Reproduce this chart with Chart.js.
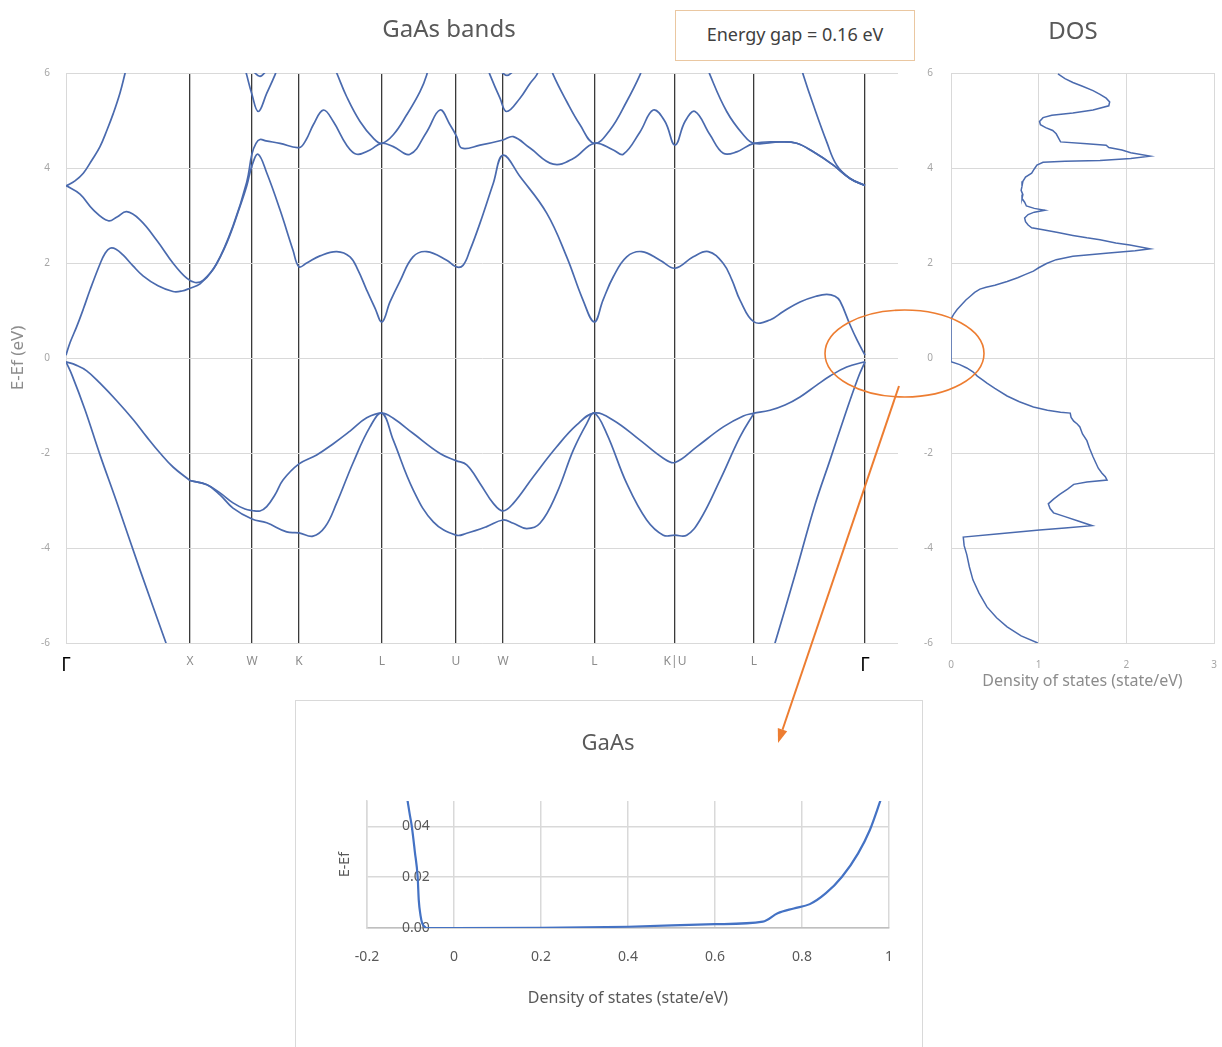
<!DOCTYPE html>
<html><head><meta charset="utf-8">
<script src="https://cdn.jsdelivr.net/npm/chart.js@4.4.1/dist/chart.umd.min.js"></script>
<style>
html,body{margin:0;padding:0;width:1222px;height:1047px;overflow:hidden;background:#fff;font-family:'Noto Sans','Open Sans',sans-serif;}
canvas{position:absolute;}
#c1{left:0;top:0;}
#c2{left:911px;top:0;}
#dosTitle{position:absolute;left:1013px;width:120px;top:13px;text-align:center;font-size:24px;line-height:34px;color:#595959;}
#insetBox{position:absolute;left:295px;top:700px;width:628px;height:360px;border:1px solid #d9d9d9;box-sizing:border-box;}
#c3{left:295px;top:700px;}
#gap{position:absolute;left:675px;top:10px;width:240px;height:51px;border:1.5px solid #eac7a1;box-sizing:border-box;display:flex;align-items:center;justify-content:center;font-size:18px;color:#404040;background:#fff;padding-bottom:3px;}
svg{position:absolute;left:0;top:0;pointer-events:none;}
</style></head><body>
<canvas id="c1" width="898" height="700"></canvas>
<canvas id="c2" width="324" height="700"></canvas>
<div id="dosTitle">DOS</div>
<div id="insetBox"></div>
<canvas id="c3" width="628" height="347"></canvas>
<div id="gap">Energy gap = 0.16 eV</div>
<svg width="1222" height="1047">
<ellipse cx="904.5" cy="353.5" rx="79.5" ry="43.5" fill="none" stroke="#ed7d31" stroke-width="1.6"/>
<line x1="899" y1="386" x2="782.5" y2="729.7" stroke="#ed7d31" stroke-width="2"/>
<polygon points="778,743 787.2,731.3 777.8,728.1" fill="#ed7d31"/>
</svg>
<script>
// ---- band structure data (k along path, E-Ef in eV) ----
const kLabels = ['Γ','X','W','K','L','U','W','L','K|U','L','Γ'];
const kTicks = [0,124,186,233,316,390,437,528.3,609,688,799];
const kMax = 832;
const energyTicks = [-6,-4,-2,0,2,4,6];

const vb1Left = [[0,-0.08],[6,-0.36],[19,-1.09],[34,-2.04],[50,-2.99],[74,-4.46],[100,-6.0],[104,-6.25]];
const vb1Right = [[705,-6.25],[709,-6.0],[729,-4.57],[749,-3.09],[764,-2.15],[779,-1.2],[792,-0.42],[799,-0.08]];
const vbGX = [[0,-0.08],[10,-0.15],[20.7,-0.27],[34,-0.53],[50.7,-0.9],[67.3,-1.3],[80.7,-1.66],[94,-2.0],[107.3,-2.3],[124,-2.58]];
const vbLG = [[688,-1.16],[704,-1.1],[719,-0.99],[734,-0.82],[750.7,-0.57],[764,-0.38],[780.7,-0.19],[799,-0.08]];
const vbUpper = [[124,-2.58],[141,-2.67],[154,-2.84],[167,-3.05],[179,-3.18],[186,-3.21],[194,-3.22],[200.7,-3.13],[209,-2.88],[217,-2.57],[233,-2.23],[250.7,-2.04],[267,-1.81],[284,-1.54],[300.7,-1.26],[316,-1.16],
  [327.3,-1.27],[347.3,-1.59],[374,-2.01],[390,-2.16],[400.7,-2.25],[414,-2.64],[427.3,-3.06],[437,-3.22],[447.3,-3.06],[467.3,-2.5],[490.7,-1.87],[510.7,-1.41],[528.3,-1.16],
  [547.3,-1.31],[574,-1.73],[597.3,-2.11],[609,-2.2],[630.7,-1.87],[657.3,-1.45],[677.3,-1.22],[688,-1.16]];
const vbLower = [[124,-2.58],[141,-2.67],[154,-2.88],[167,-3.16],[186,-3.39],[200.7,-3.47],[220.7,-3.66],[233,-3.68],[247,-3.75],[259,-3.56],[270.7,-3.05],[287,-2.21],[304,-1.45],[316,-1.16],
  [327.3,-1.73],[347.3,-2.78],[367.3,-3.45],[390,-3.73],[400.7,-3.69],[420.7,-3.55],[437,-3.41],[447.3,-3.48],[460.7,-3.59],[474,-3.48],[490.7,-2.85],[507.3,-1.94],[520.7,-1.38],[528.3,-1.16],
  [540.7,-1.59],[560.7,-2.64],[580.7,-3.41],[597.3,-3.73],[609,-3.73],[620.7,-3.73],[634,-3.41],[654,-2.57],[674,-1.66],[688,-1.16]];
const cb1 = [[0,0.06],[4,0.32],[10.7,0.66],[17.3,1.03],[24,1.43],[34,1.98],[39,2.2],[44,2.31],[50,2.29],[57,2.17],[67,1.94],[77,1.73],[92,1.52],[107,1.40],[116,1.41],[124,1.47],[134,1.56],[147,1.86],[160.7,2.42],[174,3.19],[180.7,3.62],[186,4.05],[192,4.29],[200.7,3.9],[214,3.12],[227,2.27],[233,1.92],[240.7,2.0],[254,2.15],[270.7,2.24],[284,2.13],[292,1.85],[300.7,1.43],[309,1.05],[316,0.76],
  [324,1.18],[334,1.62],[347,2.13],[360.7,2.24],[380.7,2.06],[390,1.92],[397,1.95],[404,2.27],[414,2.84],[427.3,3.68],[437,4.27],[454,3.82],[480.7,3.05],[500.7,2.13],[517,1.22],[528.3,0.76],
  [537,1.22],[547.3,1.71],[560.7,2.13],[575.7,2.24],[594,2.06],[609,1.89],[627.3,2.13],[642.3,2.24],[657.3,1.99],[666,1.64],[674,1.22],[688,0.76],
  [704,0.8],[717.3,0.98],[734,1.18],[750,1.3],[760.7,1.34],[769,1.3],[774,1.2],[784,0.7],[791,0.38],[799,0.06]];
const cb2 = [[0,3.63],[14,3.45],[27.3,3.12],[42.3,2.89],[51,2.97],[60.7,3.08],[74,2.91],[90.7,2.48],[107.3,1.99],[120.7,1.68],[129,1.59],[137.3,1.64],[150.7,1.99],[167.3,2.80],[180.7,3.70],[186,4.30],[190,4.52],[194,4.6],[200,4.57],[214,4.52],[233,4.43],
  [240,4.59],[247.3,4.91],[257.3,5.22],[267.3,4.98],[280.7,4.48],[290.7,4.29],[304,4.38],[315.7,4.52],[327.3,4.45],[344,4.29],[360.7,4.76],[374,5.22],[384,4.91],[390.7,4.66],[395.7,4.42],
  [414,4.48],[437,4.59],[447.3,4.66],[464,4.42],[487.3,4.08],[507.3,4.2],[528.3,4.52],
  [547.3,4.38],[557.3,4.29],[574,4.76],[587.3,5.22],[599,4.98],[609,4.48],[619,4.98],[629,5.19],[644,4.7],[657.3,4.31],[670.7,4.34],[688,4.52],
  [714,4.55],[730.7,4.52],[747.3,4.34],[767.3,4.06],[784,3.78],[799,3.63]];
const cbGammaUp = [[0,3.62],[9,3.73],[17.3,3.89],[26,4.17],[34,4.45],[41,4.8],[47.3,5.15],[54,5.58],[59,5.99],[61,6.17]];
const cbWLeftV = [[179.5,6.06],[180.7,5.96],[185.7,5.57],[192.3,5.19],[200.7,5.57],[209,5.96],[210.5,6.06]];
const cbWLeftTop = [[186,6.06],[194,5.93],[201,6.06]];
const cbL1 = [[267.5,6.15],[270.7,6.0],[280.7,5.5],[294,4.98],[307.3,4.63],[315.7,4.52],[327.3,4.7],[340.7,5.12],[354,5.61],[360.7,5.96],[362,6.15]];
const cbWRightV = [[422,6.1],[424,5.96],[434,5.47],[440.7,5.19],[454,5.47],[464,5.78],[470.7,5.96],[473,6.1]];
const cbWRightTop = [[434,6.05],[441,5.95],[448,6.05]];
const cbL2 = [[485,6.15],[487.3,5.96],[500.7,5.4],[514,4.91],[528.3,4.52],[544,4.8],[560.7,5.4],[574,5.96],[576.5,6.15]];
const cbL3 = [[641.5,6.15],[644,5.96],[660.7,5.19],[677.3,4.7],[688,4.52],[714,4.55],[730.7,4.52],[747.3,4.34],[767.3,4.06],[784,3.78],[799,3.63]];
const cbLGammaSteep = [[735,6.15],[737.3,5.96],[747.3,5.33],[760.7,4.55],[770.7,4.06],[784,3.78],[799,3.63]];

// ---- DOS data: [DOS (state/eV), E-Ef (eV)] ----
const dosCurve = [[1.22,5.98],[1.30,5.88],[1.39,5.80],[1.50,5.72],[1.62,5.63],[1.70,5.55],[1.77,5.47],[1.81,5.39],[1.80,5.31],[1.62,5.22],[1.39,5.16],[1.15,5.11],[1.05,5.06],[1.01,4.98],[1.02,4.91],[1.08,4.85],[1.16,4.79],[1.20,4.72],[1.23,4.62],[1.25,4.55],[1.55,4.51],[1.77,4.48],[1.80,4.43],[1.95,4.38],[2.05,4.32],[2.27,4.25],[2.05,4.20],[1.70,4.16],[1.30,4.14],[1.05,4.12],[0.98,4.06],[0.95,3.98],[0.92,3.89],[0.85,3.81],[0.82,3.72],[0.81,3.62],[0.80,3.53],[0.82,3.44],[0.81,3.36],[0.84,3.28],[0.86,3.20],[0.95,3.15],[1.07,3.11],[0.95,3.07],[0.88,3.02],[0.84,2.95],[0.85,2.87],[0.88,2.80],[0.92,2.74],[1.05,2.70],[1.22,2.64],[1.39,2.58],[1.55,2.53],[1.70,2.49],[1.88,2.42],[2.04,2.38],[2.27,2.30],[2.10,2.26],[1.80,2.21],[1.39,2.14],[1.20,2.07],[1.09,1.99],[1.00,1.90],[0.94,1.83],[0.85,1.76],[0.76,1.69],[0.64,1.61],[0.50,1.53],[0.40,1.49],[0.33,1.45],[0.27,1.38],[0.22,1.30],[0.17,1.22],[0.12,1.12],[0.07,1.02],[0.03,0.92],[0.0,0.82],[0.0,-0.08],[0.10,-0.14],[0.18,-0.21],[0.25,-0.29],[0.30,-0.38],[0.36,-0.46],[0.41,-0.53],[0.50,-0.64],[0.64,-0.80],[0.78,-0.92],[0.94,-1.03],[1.10,-1.10],[1.25,-1.14],[1.36,-1.16],[1.37,-1.25],[1.40,-1.33],[1.44,-1.39],[1.47,-1.45],[1.50,-1.60],[1.55,-1.74],[1.58,-1.90],[1.62,-2.08],[1.65,-2.20],[1.68,-2.32],[1.72,-2.42],[1.76,-2.50],[1.78,-2.57],[1.55,-2.61],[1.40,-2.66],[1.33,-2.76],[1.24,-2.87],[1.17,-2.97],[1.11,-3.07],[1.13,-3.17],[1.17,-3.26],[1.30,-3.34],[1.45,-3.43],[1.61,-3.53],[1.30,-3.58],[1.01,-3.62],[0.55,-3.70],[0.14,-3.77],[0.15,-3.95],[0.18,-4.14],[0.21,-4.40],[0.25,-4.67],[0.32,-4.95],[0.41,-5.24],[0.52,-5.47],[0.64,-5.66],[0.80,-5.85],[0.99,-6.0]];
const dosTicks = [0,1,2,3];

// ---- inset data ----
const insetDos = [-0.107,-0.102,-0.097,-0.090,-0.0835,-0.081,-0.077,-0.073,-0.066,-0.062,0,0.2,0.4,0.6,0.71,0.744,0.781,0.818,0.855,0.892,0.929,0.956,0.982];
const insetE   = [0.0504,0.045,0.040,0.030,0.020,0.011,0.005,0.0018,0.0003,0,0,0.0001,0.0005,0.0015,0.0025,0.0058,0.0077,0.0094,0.0137,0.0202,0.0294,0.0386,0.051];
const insetYTicks = [0,0.02,0.04];

Chart.defaults.font.family = "'Noto Sans','Open Sans',sans-serif";
const bandColor = '#4a6aae';
const toXY = arr => arr.map(p => ({x:p[0], y:p[1]}));
const bandSets = [vb1Left,vb1Right,vbGX,vbLG,vbUpper,vbLower,cb1,cb2,cbGammaUp,cbWLeftV,cbWLeftTop,cbL1,cbWRightV,cbWRightTop,cbL2,cbL3,cbLGammaSteep];

new Chart(document.getElementById('c1'), {
  type:'line',
  data:{datasets: bandSets.map(b => ({data:toXY(b), borderColor:bandColor, borderWidth:1.7, pointRadius:0, tension:0.4, fill:false}))},
  options:{
    responsive:false, animation:false, devicePixelRatio:1,
    layout:{padding:{left:0,right:0,top:0,bottom:0}},
    plugins:{legend:{display:false}, tooltip:{enabled:false},
      title:{display:true, text:'GaAs bands', color:'#595959', font:{size:24, weight:'normal'}, padding:{top:15.6,bottom:28.6}}},
    scales:{
      x:{type:'linear', min:0, max:kMax,
        afterBuildTicks: s => { s.ticks = kTicks.map(v => ({value:v})); },
        afterFit: s => { s.height = 57; },
        ticks:{autoSkip:false, maxRotation:0, padding:11,
          callback:(v,i) => kLabels[i],
          color: c => kLabels[c.index]==='Γ' ? '#000000' : '#8c8c8c',
          font: c => kLabels[c.index]==='Γ' ? {size:19} : {size:12}},
        grid:{drawTicks:false, color: c => c.index===0 ? '#d9d9d9' : '#3a3a3a', lineWidth: c => c.index===0 ? 1 : 1.3},
        border:{color:'#d9d9d9'}},
      y:{min:-6, max:6,
        afterBuildTicks: s => { s.ticks = energyTicks.map(v => ({value:v})); },
        afterFit: s => { s.width = 66; },
        ticks:{padding:16, color:'#a6a6a6', font:{size:10}},
        grid:{drawTicks:false, color:'#d9d9d9'},
        border:{color:'#d9d9d9'},
        title:{display:true, text:'E-Ef (eV)', color:'#8c8c8c', font:{size:17}, padding:{top:8}}}
    }
  }
});

new Chart(document.getElementById('c2'), {
  type:'line',
  data:{datasets:[{data:toXY(dosCurve), borderColor:bandColor, borderWidth:1.5, pointRadius:0, tension:0, fill:false}]},
  options:{
    responsive:false, animation:false, devicePixelRatio:1,
    layout:{padding:{left:0, right:21, top:73}},
    plugins:{legend:{display:false}, tooltip:{enabled:false}},
    scales:{
      x:{type:'linear', min:0, max:3,
        afterBuildTicks: s => { s.ticks = dosTicks.map(v => ({value:v})); },
        afterFit: s => { s.height = 57; },
        ticks:{padding:16, color:'#a6a6a6', font:{size:10}},
        grid:{drawTicks:false, color:'#d9d9d9'}, border:{color:'#d9d9d9'},
        title:{display:true, text:'Density of states (state/eV)', color:'#8c8c8c', font:{size:16}, padding:{top:0,bottom:9.4}}},
      y:{min:-6, max:6,
        afterBuildTicks: s => { s.ticks = energyTicks.map(v => ({value:v})); },
        afterFit: s => { s.width = 40; },
        ticks:{padding:18, color:'#a6a6a6', font:{size:10}},
        grid:{drawTicks:false, color:'#d9d9d9'}, border:{color:'#d9d9d9'}}
    }
  }
});

new Chart(document.getElementById('c3'), {
  type:'line',
  data:{datasets:[{data:insetDos.map((v,i) => ({x:v, y:insetE[i]})), borderColor:'#4472c4', borderWidth:2.2, pointRadius:0, cubicInterpolationMode:'monotone', fill:false}]},
  options:{
    responsive:false, animation:false, devicePixelRatio:1,
    layout:{padding:{left:32, right:34}},
    plugins:{legend:{display:false}, tooltip:{enabled:false},
      title:{display:true, text:'GaAs', color:'#595959', font:{size:22, weight:'normal'}, padding:{top:30.8,bottom:43.8}}},
    scales:{
      x:{type:'linear', min:-0.2, max:1,
        afterFit: s => { s.height = 119; },
        ticks:{stepSize:0.2, padding:20.4, color:'#595959', font:{size:14}, callback: v => String(+Number(v).toFixed(1))},
        grid:{drawTicks:false, color:'#d9d9d9', lineWidth:1.5}, border:{color:'#bfbfbf', width:1.5},
        title:{display:true, text:'Density of states (state/eV)', color:'#595959', font:{size:16}, padding:{top:0,bottom:39.4}}},
      y:{min:0, max:0.05,
        afterBuildTicks: s => { s.ticks = insetYTicks.map(v => ({value:v})); },
        afterFit: s => { s.width = 40; },
        ticks:{mirror:true, padding:35, color:'#595959', font:{size:14}, callback: v => Number(v).toFixed(2)},
        grid:{drawTicks:false, color:'#d9d9d9', lineWidth:1.5}, border:{color:'#d9d9d9', width:1.5},
        title:{display:true, text:'E-Ef', color:'#595959', font:{size:14}, padding:{top:9.6}}}
    }
  }
});
</script>
</body></html>
